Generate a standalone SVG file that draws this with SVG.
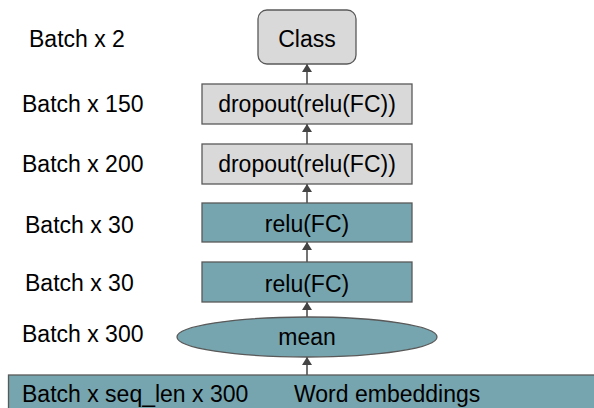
<svg xmlns="http://www.w3.org/2000/svg" width="594" height="408" viewBox="0 0 594 408">
  <style>
    text { font-family: "Liberation Sans", Arial, sans-serif; font-size: 23px; fill: #000; }
    .mid { text-anchor: middle; }
    .gray { fill: #d9d9d9; stroke: #595959; stroke-width: 1.3; }
    .teal { fill: #76a5af; stroke: #595959; stroke-width: 1.3; }
    .conn { stroke: #444; stroke-width: 1.5; fill: none; marker-end: url(#head); }
  </style>
  <defs>
    <marker id="head" viewBox="0 0 8 10" refX="8" refY="5" markerWidth="8" markerHeight="10" markerUnits="userSpaceOnUse" orient="auto">
      <path d="M0,0 L8,5 L0,10 z" fill="#444"/>
    </marker>
  </defs>

  <rect width="594" height="408" fill="#fff"/>

  <!-- shape labels on the left -->
  <g id="dims">
    <text x="29" y="47">Batch x 2</text>
    <text x="22" y="112">Batch x 150</text>
    <text x="22" y="172">Batch x 200</text>
    <text x="25" y="233">Batch x 30</text>
    <text x="25" y="291">Batch x 30</text>
    <text x="22" y="342">Batch x 300</text>
  </g>

  <!-- connectors -->
  <g id="connectors">
    <line class="conn" x1="307" y1="375" x2="307" y2="357"/>
    <line class="conn" x1="307" y1="317" x2="307" y2="302"/>
    <line class="conn" x1="307" y1="262" x2="307" y2="242"/>
    <line class="conn" x1="307" y1="203" x2="307" y2="184"/>
    <line class="conn" x1="307" y1="144" x2="307" y2="124"/>
    <line class="conn" x1="307" y1="84" x2="307" y2="64"/>
  </g>

  <g id="embeddings">
    <rect class="teal" x="8.5" y="375" width="600" height="40"/>
    <text x="22" y="402">Batch x seq_len x 300</text>
    <text x="294" y="402">Word embeddings</text>
  </g>

  <g id="mean">
    <ellipse class="teal" cx="307" cy="337" rx="130" ry="20"/>
    <text class="mid" x="307" y="345">mean</text>
  </g>

  <g id="fc1">
    <rect class="teal" x="202" y="262" width="210" height="40"/>
    <text class="mid" x="307" y="292">relu(FC)</text>
  </g>

  <g id="fc2">
    <rect class="teal" x="202" y="203" width="210" height="39"/>
    <text class="mid" x="307" y="232">relu(FC)</text>
  </g>

  <g id="fc3">
    <rect class="gray" x="202" y="144" width="210" height="40"/>
    <text class="mid" x="307" y="172">dropout(relu(FC))</text>
  </g>

  <g id="fc4">
    <rect class="gray" x="202" y="84" width="210" height="40"/>
    <text class="mid" x="307" y="112">dropout(relu(FC))</text>
  </g>

  <g id="class">
    <rect class="gray" x="258" y="10" width="98" height="54" rx="9"/>
    <text class="mid" x="307" y="47">Class</text>
  </g>
</svg>
